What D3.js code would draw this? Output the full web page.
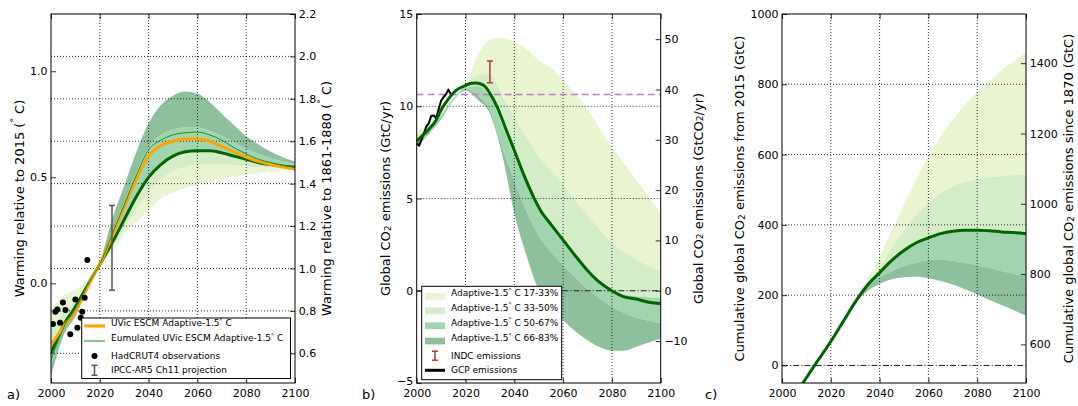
<!DOCTYPE html>
<html><head><meta charset="utf-8">
<script src="https://cdn.jsdelivr.net/npm/d3@7"></script>
<style>
body{margin:0;background:#fff;}
svg{font-family:"DejaVu Sans",sans-serif;display:block;}
</style></head><body>
<svg id="chart" width="1078" height="406"></svg>
<script>
// ---------------- DATA ----------------
const bandYears = [2000,2005,2010,2015,2020,2025,2030,2035,2040,2045,2050,2055,2060,2065,2070,2075,2080,2085,2090,2095,2100];

// Panel a: warming relative to 2015 (°C), percentile band boundaries
const aP17 = [-0.12,-0.06,-0.03,0.02,0.10,0.145,0.236,0.29,0.345,0.40,0.43,0.45,0.465,0.48,0.493,0.503,0.513,0.52,0.527,0.532,0.535];
const aP33 = [-0.22,-0.14,-0.09,0.00,0.09,0.17,0.26,0.35,0.43,0.49,0.53,0.55,0.56,0.563,0.562,0.558,0.553,0.548,0.545,0.542,0.54];
const aP50 = [-0.32,-0.19,-0.12,-0.01,0.085,0.19,0.30,0.41,0.50,0.56,0.60,0.62,0.625,0.625,0.615,0.60,0.585,0.57,0.56,0.553,0.548];
const aP67 = [-0.38,-0.22,-0.14,-0.02,0.09,0.24,0.38,0.52,0.64,0.70,0.725,0.735,0.735,0.72,0.695,0.665,0.635,0.61,0.59,0.575,0.563];
const aP83 = [-0.44,-0.25,-0.155,-0.025,0.10,0.30,0.46,0.62,0.756,0.84,0.885,0.905,0.895,0.855,0.80,0.745,0.693,0.655,0.622,0.595,0.574];

const aLineYears = [2000,2003,2006,2009,2012,2015,2018,2020,2025,2030,2035,2040,2045,2050,2055,2060,2065,2070,2075,2080,2085,2090,2095,2100];
const aMedian   = [-0.33,-0.25,-0.18,-0.13,-0.07,-0.01,0.05,0.09,0.19,0.30,0.41,0.50,0.56,0.60,0.62,0.625,0.625,0.615,0.60,0.585,0.57,0.56,0.552,0.548];
const aUvic     = [-0.29,-0.24,-0.19,-0.15,-0.09,-0.02,0.05,0.09,0.22,0.36,0.49,0.60,0.65,0.67,0.68,0.68,0.67,0.645,0.62,0.595,0.575,0.56,0.548,0.538];
const aEmulated = [-0.36,-0.27,-0.19,-0.14,-0.08,-0.01,0.05,0.09,0.23,0.37,0.51,0.63,0.675,0.70,0.71,0.713,0.70,0.675,0.64,0.61,0.585,0.57,0.557,0.548];

const hadYears  = [2000.8,2001.8,2002.6,2003.7,2004.9,2005.9,2007.9,2010.0,2010.8,2012.2,2012.8,2013.8,2014.9];
const hadValues = [-0.192,-0.134,-0.123,-0.186,-0.090,-0.126,-0.240,-0.076,-0.210,-0.162,-0.134,-0.068,0.110];
const ipccYear = 2025, ipccLow = -0.032, ipccHigh = 0.367;

// Panel b: global CO2 emissions (GtC/yr)
const bP17 = [8.6,9.1,9.7,10.5,11.15,12.75,13.6,13.72,13.5,13.1,12.5,12.1,11.4,10.7,9.85,8.8,7.8,6.9,6.0,5.1,4.2];
const bP33 = [8.4,8.95,9.6,10.45,11.1,11.7,11.75,10.6,9.4,8.3,7.3,6.5,5.8,4.9,4.1,3.3,2.6,2.1,1.7,1.35,1.1];
const bP50 = [8.2,8.75,9.5,10.4,11.0,11.1,10.5,9.0,7.3,5.8,4.5,3.5,2.6,1.8,1.0,0.4,0.0,-0.2,-0.3,-0.35,-0.4];
const bP67 = [8.0,8.6,9.4,10.35,10.95,10.6,9.8,7.8,6.0,4.3,3.0,2.1,1.4,0.7,0.1,-0.4,-0.87,-1.2,-1.45,-1.63,-1.77];
const bP83 = [7.8,8.5,9.3,10.3,10.85,10.35,9.6,7.4,4.2,1.9,0.05,-0.9,-1.6,-2.2,-2.68,-3.05,-3.25,-3.25,-3.04,-2.8,-2.6];

const bLineYears = [2000,2002,2005,2008,2010,2013,2016,2020,2022,2024,2026,2028,2030,2033,2036,2040,2044,2048,2051,2055,2060,2065,2070,2075,2080,2085,2090,2095,2100];
const bMedian = [8.1,8.37,8.75,9.25,9.8,10.4,10.85,11.12,11.23,11.26,11.22,11.07,10.7,9.95,8.95,7.6,6.25,5.05,4.3,3.6,2.75,1.9,1.1,0.45,0.0,-0.33,-0.45,-0.62,-0.69];

const gcpYears = [2000,2001,2002,2003,2004,2005,2006,2007,2008,2009,2010,2011,2012,2013,2014];
const gcpValues = [8.0,7.86,8.19,8.55,8.91,9.09,9.49,9.5,9.35,9.85,10.3,10.5,10.65,10.9,10.65];
const indcYear = 2030, indcLow = 11.27, indcHigh = 12.45;
const referenceLevel = 10.64;

// Panel c: cumulative emissions from 2015 (GtC)
const cBandYears = [2025,2030,2035,2040,2045,2050,2055,2060,2065,2070,2075,2080,2085,2090,2095,2100];
const cP17 = [124,185,245,310,385,458,530,595,652,700,742,778,810,840,866,890];
const cP33 = [124,183,235,278,335,385,428,463,490,510,522,530,535,539,542,544];
const cP50 = [124,180,228,264,299,327,349,363,375,382,385,385,383,380,378,375];
const cP67 = [124,178,222,250,268,282,293,300,302,298,292,285,277,269,261,254];
const cP83 = [124,176,212,232,245,251,252,248,240,230,217,202,186,172,157,142];
const cMedian = [-139,-87,-35,17,68,124,180,228,264,299,327,349,363,375,382,385,385,383,380,378,375];

const xTicks = [2000,2020,2040,2060,2080,2100];
const aLeftTicks = [0.0,0.5,1.0];
const aRightTicks = [0.6,0.8,1.0,1.2,1.4,1.6,1.8,2.0,2.2];
const bLeftTicks = [-5,0,5,10,15];
const bRightTicks = [-10,0,10,20,30,40,50];
const cLeftTicks = [0,200,400,600,800,1000];
const cRightTicks = [600,800,1000,1200,1400];
const bandLabels = ["Adaptive-1.5|C 17-33%","Adaptive-1.5|C 33-50%","Adaptive-1.5|C 50-67%","Adaptive-1.5|C 66-83%"];

// ---------------- STYLE ----------------
const COL = {lightest:"#e9f5d0", light:"#d4ecc7", medium:"#a1d5b0", dark:"#8fc09e", line:"#006400",
             orange:"#ffa500", thin:"#1f8f1f", ipcc:"#555555", indc:"#b03a2e", magenta:"#c07cc0"};
const bandColors = [COL.lightest, COL.light, COL.medium, COL.dark];
const svg = d3.select("#chart");
const TOP = 14, BOTTOM = 383;

// scales
const xA = d3.scaleLinear([2000,2100],[51,295]);
const yA = d3.scaleLinear([-0.47,1.27],[BOTTOM,TOP]);
const yAR = d3.scaleLinear([0.46,2.2],[BOTTOM,TOP]);
const xB = d3.scaleLinear([2000,2100],[416.7,660.7]);
const yB = d3.scaleLinear([-5,15],[BOTTOM,TOP]);
const yBR = d3.scaleLinear([-5*44/12,15*44/12],[BOTTOM,TOP]);
const xC = d3.scaleLinear([2000,2100],[782,1026]);
const yC = d3.scaleLinear([-50,1000],[BOTTOM,TOP]);
const yCR = d3.scaleLinear([490,1540],[BOTTOM,TOP]);

function setup(id, x){
  const [x0,x1] = x.range();
  svg.append("clipPath").attr("id",id).append("rect")
    .attr("x",x0).attr("y",TOP).attr("width",x1-x0).attr("height",BOTTOM-TOP);
  const g = svg.append("g");
  const plot = g.append("g").attr("clip-path",`url(#${id})`);
  return {g, plot};
}
function drawBands(plot, x, y, yrs, bounds){
  for(let i=0;i<4;i++){
    const area = d3.area().curve(d3.curveMonotoneX)
      .x((d,j)=>x(yrs[j])).y0((d,j)=>y(bounds[i][j])).y1((d,j)=>y(bounds[i+1][j]));
    plot.append("path").attr("d",area(yrs)).attr("fill",bandColors[i]).attr("stroke","none");
  }
}
function drawGrid(plot, x, yScale, yVals){
  const [x0,x1] = x.range();
  const gg = plot.append("g").attr("stroke","#000").attr("stroke-width",0.8).attr("stroke-dasharray","1,2");
  [2020,2040,2060,2080].forEach(v=>gg.append("line").attr("x1",x(v)).attr("x2",x(v)).attr("y1",TOP).attr("y2",BOTTOM));
  yVals.forEach(v=>gg.append("line").attr("x1",x0).attr("x2",x1).attr("y1",yScale(v)).attr("y2",yScale(v)));
}
function drawLine(plot, x, y, xs, ys, color, width, curve, dash){
  const l = d3.line().curve(curve||d3.curveMonotoneX).x((d,i)=>x(xs[i])).y((d,i)=>y(ys[i]));
  const p = plot.append("path").attr("d",l(xs)).attr("fill","none").attr("stroke",color)
    .attr("stroke-width",width).attr("stroke-linejoin","round").attr("stroke-linecap","butt");
  if(dash) p.attr("stroke-dasharray",dash);
  return p;
}
function hline(plot, x, y, v, color, width, dash){
  const [x0,x1] = x.range();
  plot.append("line").attr("x1",x0).attr("x2",x1).attr("y1",y(v)).attr("y2",y(v))
    .attr("stroke",color).attr("stroke-width",width).attr("stroke-dasharray",dash);
}
function errorBar(g, cx, yTop, yBot, color){
  g.append("line").attr("x1",cx).attr("x2",cx).attr("y1",yTop).attr("y2",yBot).attr("stroke",color).attr("stroke-width",1.5);
  [yTop,yBot].forEach(yy=>g.append("line").attr("x1",cx-3).attr("x2",cx+3).attr("y1",yy).attr("y2",yy).attr("stroke",color).attr("stroke-width",1.5));
}
function styleAxis(ax){
  ax.select(".domain").remove();
  ax.attr("font-family",null).attr("font-size",null);
  ax.selectAll("text").attr("font-size",11).attr("font-family","DejaVu Sans").attr("fill","#000");
  ax.selectAll("line").attr("stroke","#000").attr("stroke-width",0.8);
  return ax;
}
function drawAxes(g, x, yL, yR, lt, rt, lf, rf){
  const [x0,x1] = x.range();
  styleAxis(g.append("g").attr("transform",`translate(0,${BOTTOM})`)
    .call(d3.axisBottom(x).tickValues(xTicks).tickFormat(d3.format("d")).tickSizeInner(-5).tickSizeOuter(0).tickPadding(6)));
  styleAxis(g.append("g").attr("transform",`translate(0,${TOP})`)
    .call(d3.axisTop(x).tickValues(xTicks).tickFormat("").tickSizeInner(-5).tickSizeOuter(0)));
  const left = styleAxis(g.append("g").attr("transform",`translate(${x0},0)`)
    .call(d3.axisLeft(yL).tickValues(lt).tickFormat(lf).tickSizeInner(-5).tickSizeOuter(0).tickPadding(3.5)));
  // lift a label sitting on the bottom corner slightly so it clears the x labels
  left.selectAll(".tick").filter(d=>Math.abs(yL(d)-BOTTOM)<1).select("text").attr("dy","0.1em");
  styleAxis(g.append("g").attr("transform",`translate(${x1},0)`)
    .call(d3.axisRight(yR).tickValues(rt).tickFormat(rf).tickSizeInner(-5).tickSizeOuter(0).tickPadding(3.7)));
  g.append("rect").attr("x",x0).attr("y",TOP).attr("width",x1-x0).attr("height",BOTTOM-TOP)
    .attr("fill","none").attr("stroke","#000").attr("stroke-width",1);
}
// rich text: parts [text, mode] mode: "", "sup", "sub"
function richText(sel, parts, size){
  let shift = 0;
  parts.forEach(([t,m])=>{
    const ts = sel.append("tspan").text(t);
    let target = 0;
    if(m==="sup"){ target = -size*0.38; ts.attr("font-size",size*0.7); }
    else if(m==="sub"){ target = size*0.22; ts.attr("font-size",size*0.7); }
    ts.attr("dy",target-shift); shift = target;
  });
}
function rotLabel(cx, cy, parts){
  const t = svg.append("text").attr("transform",`translate(${cx},${cy}) rotate(-90)`)
    .attr("text-anchor","middle").attr("dominant-baseline","central")
    .attr("font-size",13).attr("fill","#000");
  richText(t, parts, 13);
}
function legendText(g, x, y, str){
  const t = g.append("text").attr("x",x).attr("y",y).attr("dy","0.35em").attr("font-size",9).attr("fill","#000");
  const bits = str.split("|");
  if(bits.length===2) richText(t, [[bits[0],""],["°","sup"],[" "+bits[1],""]], 9);
  else t.text(str);
}

// ---------------- PANEL A ----------------
{
  const {g, plot} = setup("clipA", xA);
  drawBands(plot, xA, yA, bandYears, [aP17,aP33,aP50,aP67,aP83]);
  drawGrid(plot, xA, yAR, [0.6,0.8,1.0,1.2,1.4,1.6,1.8,2.0]);
  drawLine(plot, xA, yA, aLineYears, aMedian, COL.line, 3);
  drawLine(plot, xA, yA, aLineYears, aUvic, COL.orange, 3);
  drawLine(plot, xA, yA, aLineYears, aEmulated, COL.thin, 1);
  hadYears.forEach((yr,i)=>plot.append("circle").attr("cx",xA(yr)).attr("cy",yA(hadValues[i])).attr("r",3).attr("fill","#000"));
  errorBar(plot, xA(ipccYear), yA(ipccHigh), yA(ipccLow), COL.ipcc);
  drawAxes(g, xA, yA, yAR, aLeftTicks, aRightTicks, d3.format(".1f"), d3.format(".1f"));
  // legend
  const lg = g.append("g");
  lg.append("rect").attr("x",81.7).attr("y",318).attr("width",208.8).attr("height",60.5).attr("fill","#fff").attr("stroke","#000").attr("stroke-width",1);
  const ly = [326,341,356,370.3];
  lg.append("line").attr("x1",84).attr("x2",105).attr("y1",ly[0]).attr("y2",ly[0]).attr("stroke",COL.orange).attr("stroke-width",3);
  lg.append("line").attr("x1",84).attr("x2",105).attr("y1",ly[1]).attr("y2",ly[1]).attr("stroke",COL.thin).attr("stroke-width",1);
  lg.append("circle").attr("cx",94.5).attr("cy",ly[2]).attr("r",3).attr("fill","#000");
  errorBar(lg, 94.5, ly[3]-5, ly[3]+5, COL.ipcc);
  legendText(lg,111,ly[0],"UVic ESCM Adaptive-1.5|C");
  legendText(lg,111,ly[1],"Eumulated UVic ESCM Adaptive-1.5|C");
  legendText(lg,111,ly[2],"HadCRUT4 observations");
  legendText(lg,111,ly[3],"IPCC-AR5 Ch11 projection");
}
// ---------------- PANEL B ----------------
{
  const {g, plot} = setup("clipB", xB);
  drawBands(plot, xB, yB, bandYears, [bP17,bP33,bP50,bP67,bP83]);
  drawGrid(plot, xB, yB, [5,10]);
  hline(plot, xB, yB, 0, "#222", 1, "6,2,1.2,2");
  hline(plot, xB, yB, referenceLevel, COL.magenta, 1.5, "7,4");
  drawLine(plot, xB, yB, gcpYears, gcpValues, "#000", 2, d3.curveLinear);
  drawLine(plot, xB, yB, bLineYears, bMedian, COL.line, 3);
  errorBar(plot, xB(indcYear), yB(indcHigh), yB(indcLow), COL.indc);
  drawAxes(g, xB, yB, yBR, bLeftTicks, bRightTicks, d3.format("d"), d3.format("d"));
  const lg = g.append("g");
  lg.append("rect").attr("x",421.7).attr("y",286.3).attr("width",140).attr("height",93.4).attr("fill","#fff").attr("stroke","#000").attr("stroke-width",1);
  const ly = [296.3,310.8,325.7,341.0,355.7,370.3];
  bandLabels.forEach((lab,i)=>{
    lg.append("rect").attr("x",425).attr("y",ly[i]-3.3).attr("width",20).attr("height",6.7).attr("fill",bandColors[i]);
    legendText(lg,451,ly[i],lab);
  });
  errorBar(lg, 435, ly[4]-4.5, ly[4]+4.5, COL.indc);
  legendText(lg,451,ly[4],"INDC emissions");
  lg.append("line").attr("x1",425).attr("x2",445).attr("y1",ly[5]).attr("y2",ly[5]).attr("stroke","#000").attr("stroke-width",3);
  legendText(lg,451,ly[5],"GCP emissions");
}
// ---------------- PANEL C ----------------
{
  const {g, plot} = setup("clipC", xC);
  drawBands(plot, xC, yC, cBandYears, [cP17,cP33,cP50,cP67,cP83]);
  drawGrid(plot, xC, yC, [200,400,600,800]);
  hline(plot, xC, yC, 0, "#222", 1, "6,2,1.2,2");
  drawLine(plot, xC, yC, bandYears, cMedian, COL.line, 3);
  drawAxes(g, xC, yC, yCR, cLeftTicks, cRightTicks, d3.format("d"), d3.format("d"));
}
// ---------------- LABELS ----------------
const midY = (TOP+BOTTOM)/2;
rotLabel(19, midY, [["Warming relative to 2015 (",""],["°","sup"],[" C)",""]]);
rotLabel(326, midY, [["Warming relative to 1861-1880 (",""],["°","sup"],[" C)",""]]);
rotLabel(385, midY, [["Global CO",""],["2","sub"],[" emissions (GtC/yr)",""]]);
rotLabel(697.5, midY, [["Global CO",""],["2","sub"],[" emissions (GtCO",""],["2","sub"],["/yr)",""]]);
rotLabel(739, midY, [["Cumulative global CO",""],["2","sub"],[" emissions from 2015 (GtC)",""]]);
rotLabel(1068, midY, [["Cumulative global CO",""],["2","sub"],[" emissions since 1870 (GtC)",""]]);
[["a)",7],["b)",362],["c)",705]].forEach(([t,x])=>svg.append("text").attr("x",x).attr("y",399).attr("font-size",13).attr("fill","#000").text(t));
</script>
</body></html>
